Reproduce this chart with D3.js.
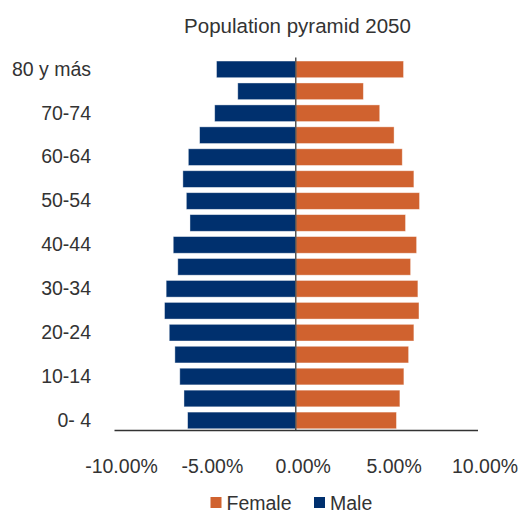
<!DOCTYPE html>
<html>
<head>
<meta charset="utf-8">
<script src="https://cdn.jsdelivr.net/npm/d3@7"></script>
<style>
  html, body { margin: 0; padding: 0; background: #fff; }
  svg { display: block; }
  text { font-family: "Liberation Sans", Arial, sans-serif; fill: #333; }
</style>
</head>
<body>
<svg id="chart" width="519" height="513"></svg>
<script>
// Age groups, oldest first (top of the pyramid)
const ageGroups = ["80 y más", "75-79", "70-74", "65-69", "60-64", "55-59", "50-54", "45-49",
  "40-44", "35-39", "30-34", "25-29", "20-24", "15-19", "10-14", "5- 9", "0- 4"];
// Share of total population (%), drawn to the left for males
const maleShare = [4.36, 3.19, 4.46, 5.29, 5.91, 6.21, 6.02, 5.82,
  6.74, 6.49, 7.13, 7.22, 6.96, 6.65, 6.38, 6.15, 5.95];
const femaleShare = [5.93, 3.72, 4.62, 5.41, 5.86, 6.50, 6.81, 6.04,
  6.65, 6.32, 6.72, 6.78, 6.50, 6.21, 5.95, 5.73, 5.54];
const xTicks = [-0.10, -0.05, 0, 0.05, 0.10];
const seriesNames = ["Female", "Male"];
const seriesColors = ["#D0622F", "#00306E"];
const titleText = "Population pyramid 2050";

const svg = d3.select("#chart");
const fontSize = "19.5px";

const x = d3.scaleLinear().domain([-0.10, 0.10]).range([114, 477.5]);
const y = d3.scaleBand().domain(ageGroups).range([58.4, 431.4])
  .paddingInner(0.24).paddingOuter(0.12);
const axisY = 430;

// Title
svg.append("text")
  .attr("x", 297.5).attr("y", 33)
  .attr("text-anchor", "middle")
  .style("font-size", "20.5px")
  .text(titleText);

// Bars
const rows = ageGroups.map((g, i) => ({ g, m: maleShare[i] / 100, f: femaleShare[i] / 100 }));
const barG = svg.append("g");
barG.selectAll("rect.male").data(rows).join("rect")
  .attr("class", "male")
  .attr("x", d => x(-d.m)).attr("width", d => x(0) - x(-d.m))
  .attr("y", d => y(d.g)).attr("height", y.bandwidth())
  .attr("fill", seriesColors[1])
  .attr("stroke", "#fff").attr("stroke-opacity", 0.5).attr("stroke-width", 0.8);
barG.selectAll("rect.female").data(rows).join("rect")
  .attr("class", "female")
  .attr("x", x(0)).attr("width", d => x(d.f) - x(0))
  .attr("y", d => y(d.g)).attr("height", y.bandwidth())
  .attr("fill", seriesColors[0])
  .attr("stroke", "#fff").attr("stroke-opacity", 0.5).attr("stroke-width", 0.8);

// Zero line
svg.append("line")
  .attr("x1", x(0)).attr("x2", x(0))
  .attr("y1", 57.5).attr("y2", axisY)
  .attr("stroke", "#555").attr("stroke-width", 1.5);

// Category axis (every other label)
const yAxis = d3.axisLeft(y).tickSize(0).tickPadding(0)
  .tickFormat((d, i) => i % 2 === 0 ? d : "");
const yg = svg.append("g").attr("transform", "translate(91,0)").call(yAxis);
yg.select(".domain").remove();
yg.selectAll("text").style("font-size", fontSize).attr("fill", "#333");

// Value axis, percentages with a plain hyphen for negatives
const pct = d3.format(".2%");
const xAxis = d3.axisBottom(x).tickValues(xTicks).tickSize(0).tickPadding(29)
  .tickFormat(d => pct(d).replace("\u2212", "-"));
const xg = svg.append("g").attr("transform", `translate(0,${axisY})`).call(xAxis);
xg.select(".domain").attr("stroke", "#333").attr("stroke-width", 1.5);
xg.selectAll("text").style("font-size", fontSize).attr("fill", "#333").attr("dx", 7);

// Legend
const legend = svg.append("g");
const legendItems = [{ name: seriesNames[0], color: seriesColors[0], x: 210.5 },
  { name: seriesNames[1], color: seriesColors[1], x: 314 }];
legendItems.forEach(item => {
  legend.append("rect").attr("x", item.x).attr("y", 497)
    .attr("width", 11).attr("height", 11).attr("fill", item.color);
  legend.append("text").attr("x", item.x + 16).attr("y", 510)
    .style("font-size", fontSize).text(item.name);
});
</script>
</body>
</html>
